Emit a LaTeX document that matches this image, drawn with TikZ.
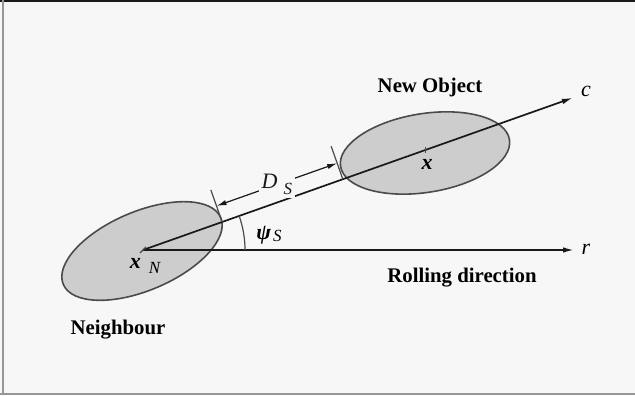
\documentclass[tikz,border=0pt]{standalone}
\usepackage{fontspec}
\setmainfont{Liberation Serif}
\usetikzlibrary{shapes.geometric, arrows.meta, positioning, calc}
\definecolor{pPaper}{RGB}{247,247,247}
\definecolor{pBlob}{RGB}{205,205,205}
\definecolor{pEdge}{RGB}{75,75,75}
\definecolor{pInk}{RGB}{25,25,25}
\definecolor{pFrame}{RGB}{150,150,150}
\tikzset{
  blob/.style={
    ellipse, draw=pEdge, fill=pBlob, line width=0.8pt,
    inner sep=0pt, minimum width=85.5pt, minimum height=39.4pt
  },
  axisarrow/.style={-{Latex[length=5.5pt,width=2.8pt]}, pInk, line width=0.85pt},
  dimarrow/.style={{Latex[length=5pt,width=2.6pt]}-{Latex[length=5pt,width=2.6pt]}, pInk, line width=0.6pt},
  tickmark/.style={pEdge, line width=0.6pt},
  caption/.style={font=\fontsize{10.4}{12}\bfseries, anchor=base, inner sep=0pt},
  mathlbl/.style={font=\fontsize{11}{13}\itshape, anchor=base, inner sep=0pt}
}
\begin{document}
\begin{tikzpicture}[x=0.5pt,y=0.5pt]
\useasboundingbox (0,0) rectangle (635,395);
\fill[pPaper] (0,0) rectangle (635,395);
\draw[pInk, line width=1pt] (0,394) -- (635,394);
\draw[pFrame, line width=0.8pt] (3,0) -- (3,395);
\draw[pFrame, line width=1pt] (0,1.5) -- (635,1.5);
% centres, axes and contact points
\coordinate (xN) at (143,145);
\coordinate (xO) at ($(xN)+(19.5:300)$);
\coordinate (cEnd) at ($(xN)+(19.5:456)$);
\coordinate (rEnd) at (574,145);
\coordinate (tA) at ($(xN)+(19.5:84)$);
\coordinate (tB) at ($(xN)+(19.5:212)$);
\coordinate (tAtop) at ($(tA)+(109.5:34)$);
\coordinate (tBtop) at ($(tB)+(109.5:35)$);
\coordinate (dA) at ($(tA)+(109.5:17)$);
\coordinate (dB) at ($(tB)+(109.5:17)$);
\coordinate (arcA) at ($(xN)+(102,0)$);
\node[blob,rotate=23] (nbr) at (142,144) {};
\node[blob,rotate=9] (obj) at (425,242) {};
\draw[axisarrow] (xN) -- (rEnd);
\draw[axisarrow] (xN) -- (cEnd);
\draw[tickmark] ($(xN)+(-3,-3)$) -- ($(xN)+(3,3)$);
\draw[tickmark] ($(xO)+(0,-3)$) -- ($(xO)+(0,3)$);
\draw[tickmark] (tA) -- (tAtop);
\draw[tickmark] (tB) -- (tBtop);
\draw[dimarrow] (dA) -- node[fill=pPaper,inner sep=1.5pt,font=\fontsize{11}{13}\itshape]{D\hspace{3pt}\raisebox{-3pt}{\fontsize{8.5}{10}\selectfont S}} (dB);
\draw[tickmark] (arcA) arc[start angle=0, end angle=19.5, radius=102];
\node[caption] (newlbl) at (430,302) {New Object};
\node[caption] (rolllbl) at (462,112) {Rolling direction};
\node[caption] (nbrlbl) at (118,60) {Neighbour};
\node[mathlbl] (clbl) at (586,298) {c};
\node[mathlbl] (rlbl) at (586,140) {r};
\node[mathlbl,font=\fontsize{11}{13}\bfseries\itshape] (xlbl) at (427,225) {x};
\node[mathlbl] (xNlbl) at (145,126) {{\bfseries x}\hspace{4pt}\raisebox{-2.5pt}{\fontsize{8.5}{10}\selectfont N}};
\node[mathlbl] (psilbl) at (269,155) {{\bfseries ψ}\hspace{1pt}\raisebox{-1pt}{\fontsize{8.5}{10}\selectfont S}};
\end{tikzpicture}
\end{document}
